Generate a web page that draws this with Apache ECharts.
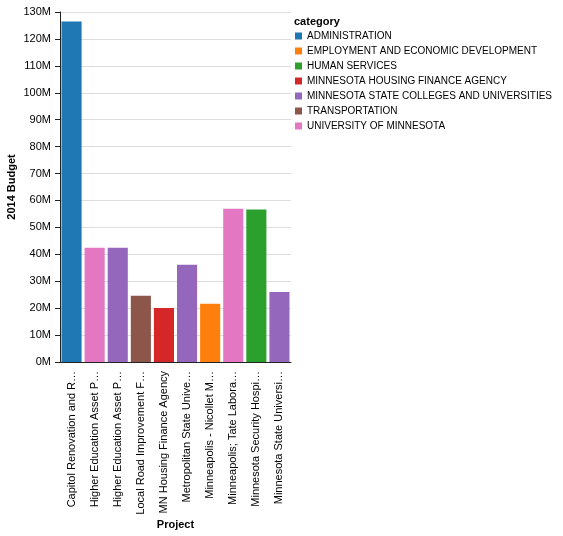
<!DOCTYPE html>
<html>
<head>
<meta charset="utf-8">
<script src="https://cdn.jsdelivr.net/npm/echarts@6/dist/echarts.min.js"></script>
<style>html,body{margin:0;padding:0;background:#fff}#c{width:563px;height:536px}</style>
</head>
<body>
<div id="c"></div>
<script>
const projects = [
  "Capitol Renovation and R…",
  "Higher Education Asset P…",
  "Higher Education Asset P…",
  "Local Road Improvement F…",
  "MN Housing Finance Agency",
  "Metropolitan State Unive…",
  "Minneapolis - Nicollet M…",
  "Minneapolis; Tate Labora…",
  "Minnesota Security Hospi…",
  "Minnesota State Universi…"
];
const projectCategory = [
  "ADMINISTRATION",
  "UNIVERSITY OF MINNESOTA",
  "MINNESOTA STATE COLLEGES AND UNIVERSITIES",
  "TRANSPORTATION",
  "MINNESOTA HOUSING FINANCE AGENCY",
  "MINNESOTA STATE COLLEGES AND UNIVERSITIES",
  "EMPLOYMENT AND ECONOMIC DEVELOPMENT",
  "UNIVERSITY OF MINNESOTA",
  "HUMAN SERVICES",
  "MINNESOTA STATE COLLEGES AND UNIVERSITIES"
];
const budgetMillions = [126.5, 42.4, 42.4, 24.6, 20.1, 36.1, 21.6, 56.9, 56.6, 26.0];
const categories = [
  "ADMINISTRATION",
  "EMPLOYMENT AND ECONOMIC DEVELOPMENT",
  "HUMAN SERVICES",
  "MINNESOTA HOUSING FINANCE AGENCY",
  "MINNESOTA STATE COLLEGES AND UNIVERSITIES",
  "TRANSPORTATION",
  "UNIVERSITY OF MINNESOTA"
];
const categoryColors = ["#1f77b4","#ff7f0e","#2ca02c","#d62728","#9467bd","#8c564b","#e377c2"];

const FONT = "Liberation Sans, Arial, sans-serif";
const series = categories.map((cat, ci) => ({
  name: cat,
  type: 'bar',
  stack: 'all',
  barWidth: '87%',
  itemStyle: { color: categoryColors[ci] },
  data: projects.map((p, i) => projectCategory[i] === cat ? budgetMillions[i] : null)
}));

const chart = echarts.init(document.getElementById('c'));
chart.setOption({
  animation: false,
  textStyle: { fontFamily: FONT },
  grid: { left: 60, right: 272, top: 12, bottom: 174, containLabel: false, outerBoundsMode: 'none' },
  legend: {
    orient: 'vertical',
    left: 295, top: 31,
    padding: 0,
    icon: 'rect',
    itemWidth: 7, itemHeight: 7, itemGap: 5,
    data: categories,
    textStyle: { fontSize: 10, color: '#000', fontFamily: FONT, lineHeight: 10 },
    selectedMode: false
  },
  graphic: [{
    type: 'text', left: 294, top: 16,
    style: { text: 'category', font: 'bold 11px ' + FONT, fill: '#000' }
  }],
  xAxis: {
    type: 'category',
    data: projects,
    name: 'Project',
    nameLocation: 'middle',
    nameGap: 157,
    nameMoveOverlap: false,
    nameTextStyle: { fontWeight: 'bold', fontSize: 11, color: '#000', fontFamily: FONT },
    axisLine: { lineStyle: { color: '#222' } },
    axisTick: { alignWithLabel: true, length: 5, lineStyle: { color: '#222' } },
    axisLabel: { rotate: 90, fontSize: 11, color: '#000', margin: 9, fontFamily: FONT, interval: 0 }
  },
  yAxis: {
    type: 'value',
    min: 0, max: 130, interval: 10,
    name: '2014 Budget',
    nameLocation: 'middle',
    nameGap: 43,
    nameMoveOverlap: false,
    nameTextStyle: { fontWeight: 'bold', fontSize: 11, color: '#000', fontFamily: FONT },
    axisLine: { show: true, lineStyle: { color: '#222' } },
    axisTick: { show: true, length: 5, lineStyle: { color: '#222' } },
    axisLabel: { formatter: '{value}M', fontSize: 11, color: '#000', margin: 9, fontFamily: FONT },
    splitLine: { lineStyle: { color: '#ddd' } }
  },
  series: series
});
</script>
</body>
</html>
